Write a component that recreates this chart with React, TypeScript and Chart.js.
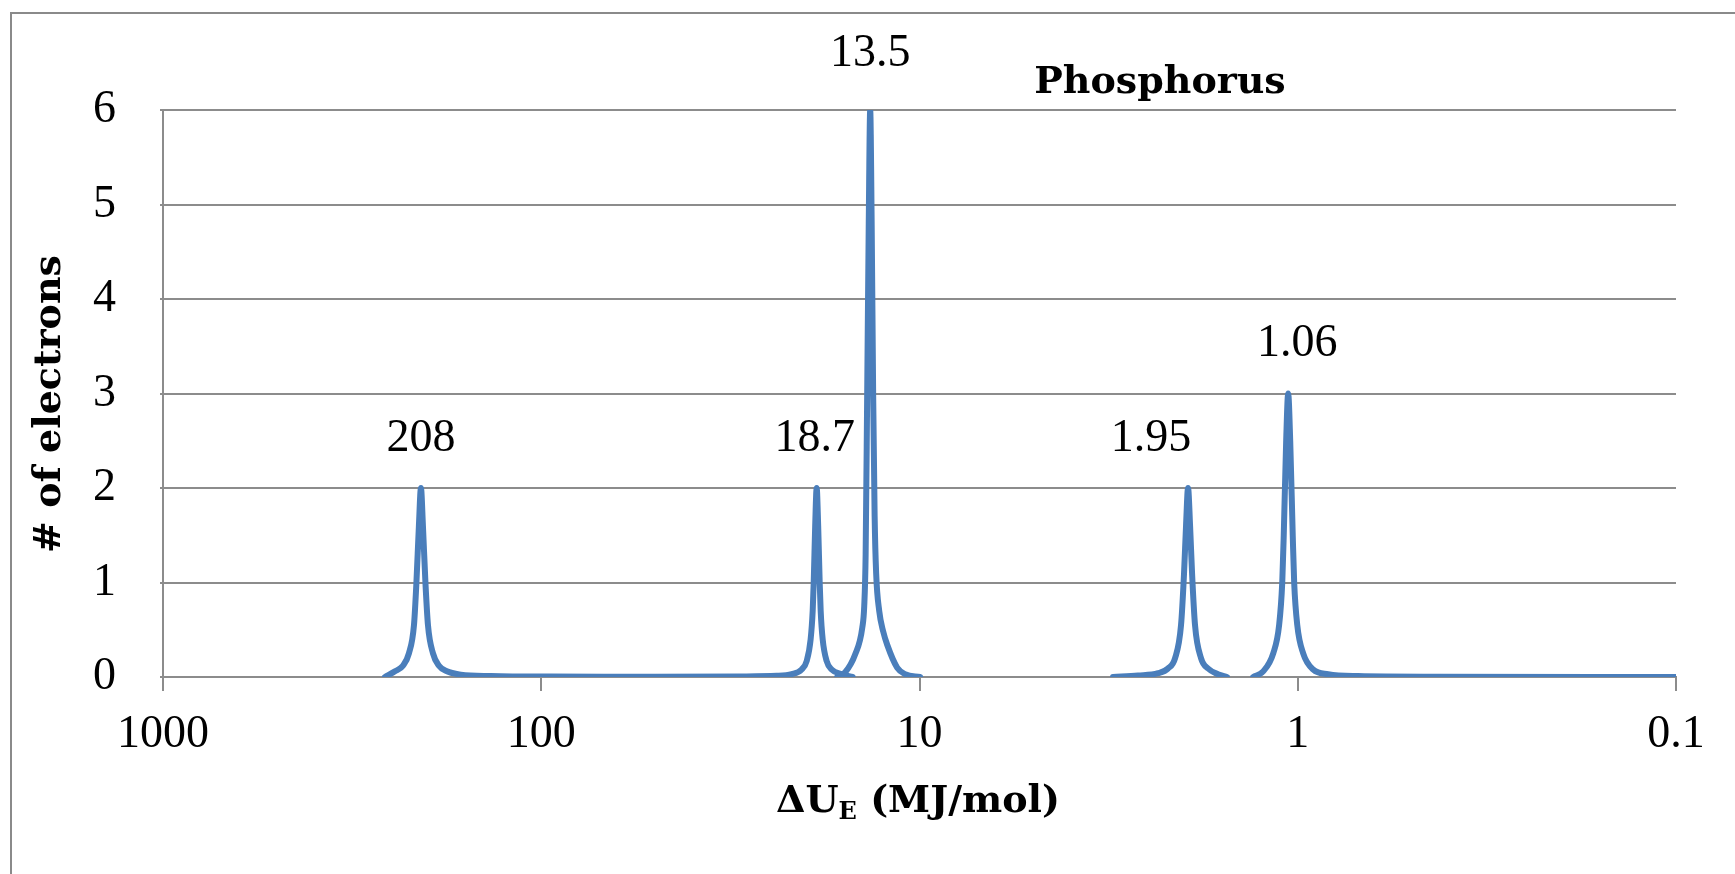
import React, { useEffect, useRef } from 'react';
import { Chart, registerables } from 'chart.js';

Chart.register(...registerables);

// ---- data ----
const X_TICKS = [1000, 100, 10, 1, 0.1];
const Y_MIN = 0;
const Y_MAX = 6;

// segment 1: 208 peak, baseline, 18.7 peak (MJ/mol, # electrons)
const SEG1_X = [259, 243.6, 232.1, 223.8, 217.0, 213.8, 210.6, 208, 205.5, 202.4, 199.3, 193.3, 186.4, 177.6, 163.1, 135.9, 94.3, 50, 30, 23.86, 21.77, 20.49, 19.87, 19.40, 19.16, 19.04, 18.87, 18.7, 18.53, 18.36, 18.25, 18.03, 17.60, 17.07, 16.06, 15.02];
const SEG1_Y = [0, 0.06, 0.12, 0.25, 0.55, 1.0, 1.6, 2, 1.6, 1.0, 0.55, 0.25, 0.12, 0.06, 0.025, 0.01, 0.004, 0.003, 0.006, 0.012, 0.03, 0.08, 0.17, 0.4, 0.7, 1.0, 1.6, 2, 1.6, 1.0, 0.7, 0.4, 0.17, 0.08, 0.03, 0];
// segment 2: 13.5 peak
const SEG2_X = [16.50, 15.72, 14.79, 14.17, 14.00, 13.88, 13.75, 13.62, 13.5, 13.38, 13.26, 13.14, 13.02, 12.78, 12.47, 12.17, 11.46, 10.91, 9.96];
const SEG2_Y = [0, 0.05, 0.24, 0.52, 0.75, 1.3, 3.0, 4.8, 6, 4.8, 3.0, 1.7, 1.1, 0.7, 0.48, 0.34, 0.1, 0.03, 0];
// segment 3: 1.95 peak
const SEG3_X = [3.079, 2.644, 2.341, 2.203, 2.110, 2.035, 1.998, 1.974, 1.95, 1.926, 1.903, 1.869, 1.802, 1.726, 1.625, 1.538];
const SEG3_Y = [0, 0.015, 0.04, 0.09, 0.2, 0.55, 1.1, 1.6, 2, 1.6, 1.1, 0.55, 0.2, 0.09, 0.03, 0];
// segment 4: 1.06 peak and tail to 0.1
const SEG4_X = [1.312, 1.234, 1.161, 1.120, 1.099, 1.089, 1.073, 1.06, 1.047, 1.031, 1.022, 1.003, 0.9675, 0.9104, 0.831, 0.692, 0.425, 0.1];
const SEG4_Y = [0, 0.06, 0.25, 0.55, 1.0, 1.5, 2.5, 3, 2.5, 1.5, 1.0, 0.55, 0.25, 0.08, 0.03, 0.01, 0.003, 0];

// peak annotations
const PEAK_X = [208, 18.7, 13.5, 1.95, 1.06];
const PEAK_Y = [2, 2, 6, 2, 3];
const PEAK_LABELS = ['208', '18.7', '13.5', '1.95', '1.06'];

const CHART_TITLE = 'Phosphorus';
const Y_TITLE = '# of electrons';
const X_TITLE_MAIN = '\u0394U';
const X_TITLE_SUB = 'E';
const X_TITLE_REST = ' (MJ/mol)';

// ---- styles ----
const W = 1735;
const H = 874;
const LINE_COLOR = '#4a7ebb';
const GRID_COLOR = '#8c8c8c';
const LABEL_DX = [0, -2, 0, -37, 9];
const LABEL_DY = [-49, -49, -56, -49, -50];
const SERIF = '"Liberation Serif", serif';
const BOLD_SERIF = '"DejaVu Serif", serif';

const pts = (xs: number[], ys: number[]) => xs.map((x, i) => ({ x, y: ys[i] }));

const decorPlugin = {
  id: 'decor',
  beforeDraw(chart: any) {
    const ctx = chart.ctx;
    ctx.save();
    ctx.fillStyle = '#ffffff';
    ctx.fillRect(0, 0, W, H);
    ctx.strokeStyle = '#8a8a8a';
    ctx.lineWidth = 2;
    ctx.beginPath();
    ctx.moveTo(11, H + 5);
    ctx.lineTo(11, 13);
    ctx.lineTo(W + 5, 13);
    ctx.stroke();
    ctx.restore();
  },
  afterDatasetsDraw(chart: any) {
    const ctx = chart.ctx;
    const xs = chart.scales.x;
    const ys = chart.scales.y;
    ctx.save();
    ctx.fillStyle = '#000000';
    // peak labels
    ctx.font = `46px ${SERIF}`;
    ctx.textAlign = 'center';
    ctx.textBaseline = 'middle';
    PEAK_X.forEach((v, i) => {
      const px = xs.getPixelForValue(v) + LABEL_DX[i];
      const py = ys.getPixelForValue(PEAK_Y[i]) + LABEL_DY[i];
      ctx.fillText(PEAK_LABELS[i], px, py);
    });
    // chart title
    ctx.font = `bold 38px ${BOLD_SERIF}`;
    ctx.textBaseline = 'alphabetic';
    ctx.fillText(CHART_TITLE, 1160, 93);
    // y title
    ctx.save();
    ctx.translate(60, 404);
    ctx.rotate(-Math.PI / 2);
    ctx.textAlign = 'center';
    ctx.fillText(Y_TITLE, 0, 0);
    ctx.restore();
    // x title with subscript
    const mainFont = `bold 38px ${BOLD_SERIF}`;
    const subFont = `bold 24px ${BOLD_SERIF}`;
    ctx.font = mainFont;
    const w1 = ctx.measureText(X_TITLE_MAIN).width;
    const w3 = ctx.measureText(X_TITLE_REST).width;
    ctx.font = subFont;
    const w2 = ctx.measureText(X_TITLE_SUB).width;
    const total = w1 + w2 + w3;
    let x0 = 918 - total / 2;
    const base = 812;
    ctx.textAlign = 'left';
    ctx.font = mainFont;
    ctx.fillText(X_TITLE_MAIN, x0, base);
    x0 += w1;
    ctx.font = subFont;
    ctx.fillText(X_TITLE_SUB, x0, base + 7);
    x0 += w2;
    ctx.font = mainFont;
    ctx.fillText(X_TITLE_REST, x0, base);
    ctx.restore();
  },
};

export default function App() {
  const ref = useRef<HTMLCanvasElement | null>(null);

  useEffect(() => {
    document.body.style.margin = '0';
    const canvas = ref.current;
    if (!canvas) return;
    const mk = (xs: number[], ys: number[]) => ({
      data: pts(xs, ys),
      borderColor: LINE_COLOR,
      backgroundColor: LINE_COLOR,
      borderWidth: 6,
      pointRadius: 0,
      fill: false,
      cubicInterpolationMode: 'monotone' as const,
      borderJoinStyle: 'round' as const,
      borderCapStyle: 'round' as const,
    });
    const chart = new Chart(canvas, {
      type: 'line',
      data: {
        datasets: [mk(SEG1_X, SEG1_Y), mk(SEG2_X, SEG2_Y), mk(SEG3_X, SEG3_Y), mk(SEG4_X, SEG4_Y)],
      },
      options: {
        responsive: false,
        animation: false,
        devicePixelRatio: 1,
        layout: { padding: { left: 0, top: 110, right: 59, bottom: 0 } },
        plugins: {
          legend: { display: false },
          title: { display: false },
          tooltip: { enabled: false },
        },
        scales: {
          x: {
            type: 'logarithmic',
            reverse: true,
            min: 0.1,
            max: 1000,
            afterBuildTicks: (scale: any) => {
              scale.ticks = X_TICKS.map((v) => ({ value: v }));
            },
            afterFit: (scale: any) => {
              scale.height = H - 677;
            },
            grid: {
              drawOnChartArea: false,
              drawTicks: true,
              tickLength: 14,
              color: GRID_COLOR,
              lineWidth: 2,
            },
            border: { display: true, color: GRID_COLOR, width: 2 },
            ticks: {
              autoSkip: false,
              maxRotation: 0,
              padding: 16,
              color: '#000000',
              font: { family: SERIF, size: 46 },
              callback: (v: any) => String(v),
            },
          },
          y: {
            type: 'linear',
            min: Y_MIN,
            max: Y_MAX,
            afterFit: (scale: any) => {
              scale.width = 163;
            },
            grid: {
              color: GRID_COLOR,
              lineWidth: 2,
              drawTicks: true,
              tickLength: 3,
            },
            border: { display: true, color: GRID_COLOR, width: 2 },
            ticks: {
              stepSize: 1,
              padding: 44,
              color: '#000000',
              font: { family: SERIF, size: 46 },
            },
          },
        },
      },
      plugins: [decorPlugin],
    });
    return () => chart.destroy();
  }, []);

  return (
    <div style={{ width: W, height: H }}>
      <canvas ref={ref} width={W} height={H} style={{ display: 'block' }} />
    </div>
  );
}
